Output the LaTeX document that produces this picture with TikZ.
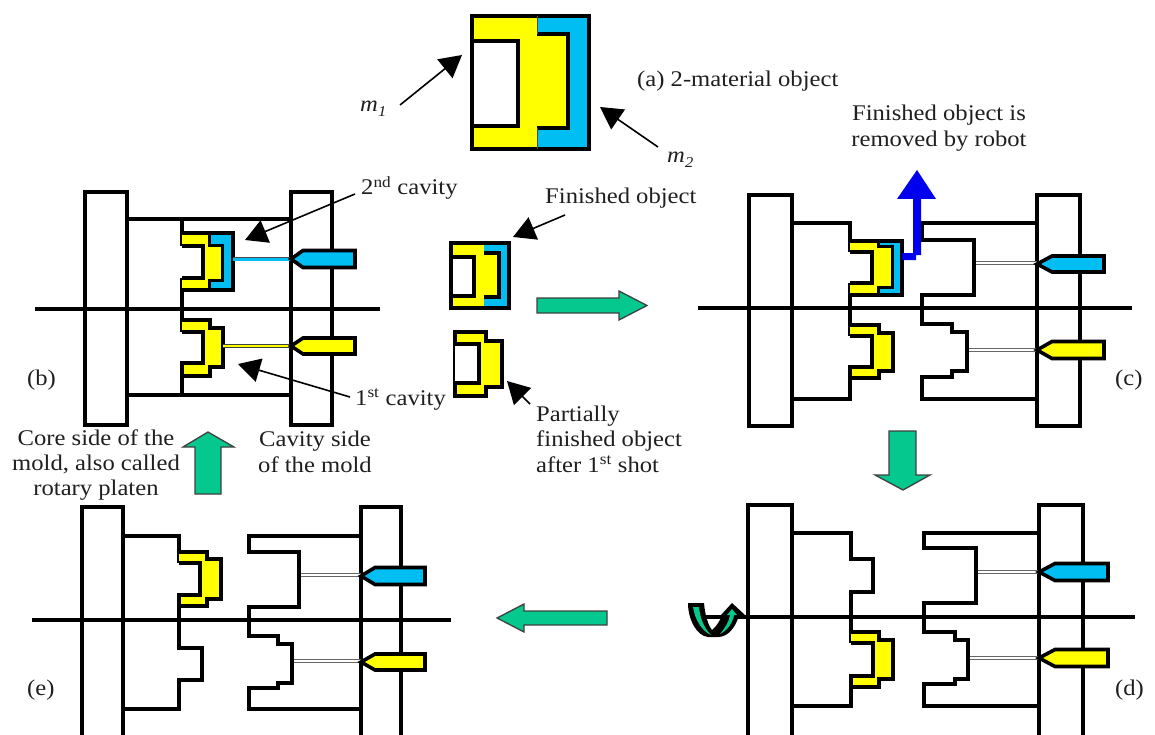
\documentclass[tikz,border=0pt]{standalone}
\usepackage{fontspec}
\setmainfont{Liberation Serif}[FakeStretch=1.1]
\usetikzlibrary{arrows.meta}
\definecolor{matyellow}{HTML}{FFFF00}
\definecolor{matblue}{HTML}{00BEF2}
\definecolor{robotblue}{HTML}{0000EE}
\definecolor{stepgreen}{HTML}{05C88E}
\tikzset{
  moldline/.style={draw=black,line width=3.6pt,line join=miter},
  platen/.style={draw=black,fill=white,line width=3.6pt},
  axisline/.style={draw=black,line width=3.2pt},
  ptr/.style={draw=black,line width=1.6pt,-{Triangle[length=22pt,width=24pt]}},
  steparrow/.style={draw=black!75,fill=stepgreen,line width=1.3pt,line join=miter},
  lbl/.style={inner sep=0pt,font=\fontsize{22.4}{25.4}\selectfont,text=black!88},
  lblb/.style={lbl,anchor=base west},
}
% tip x, tip y, shoulder x, end x, half height, colour
\newcommand\nozzleshape[6]{\draw[moldline,fill=#6] (#1,#2) -- (#3,#2-#5) -- (#4,#2-#5) -- (#4,#2+#5) -- (#3,#2+#5) -- cycle;}
% from x, to x, y
\newcommand\thinsprue[3]{\draw[black!60,line width=3.6pt] (#1,#3) -- (#2,#3); \draw[white,line width=1.6pt] (#1,#3) -- (#2,#3);}
\begin{document}
\begin{tikzpicture}[x=1pt,y=-1pt]
\useasboundingbox (0,0) rectangle (1155,735);
\clip (0,0) rectangle (1155,735);
\fill[white] (0,0) rectangle (1155,735);

%% ---------- (a)
\fill[matyellow] (472,16) rectangle (537,149);
\fill[matyellow] (537,34) rectangle (568,128);
\fill[matblue] (537,16) -- (589,16) -- (589,149) -- (537,149) -- (537,128) -- (568,128) -- (568,34) -- (537,34) -- cycle;
\draw[moldline,fill=white] (472,41) -- (518,41) -- (518,126) -- (472,126);
\draw[moldline] (537,34) -- (568,34) -- (568,128) -- (537,128);
\draw[moldline] (472,16) rectangle (589,149);
\draw[black!70,line width=.6pt] (537,16) -- (537,34) (537,128) -- (537,149);
\coordinate (m1s) at (400,105); \coordinate (m1t) at (462,55);
\coordinate (m2s) at (658,147); \coordinate (m2t) at (600,107);
\draw[ptr] (m1s) -- (m1t);
\draw[ptr] (m2s) -- (m2t);
\node[lblb] (lm1) at (360,112) {\textit{m}\raisebox{-5pt}{\fontsize{15}{15}\selectfont\textit{1}}};
\node[lblb] (lm2) at (667,163) {\textit{m}\raisebox{-5pt}{\fontsize{15}{15}\selectfont\textit{2}}};
\node[lblb] (la) at (637,87) {(a) 2-material object};
\node[lbl,align=center] (lrobot) at (939,128) {Finished object is\\removed by robot};

%% ---------- (b)
\draw[platen] (85,192) rectangle (127,425);
\draw[platen] (291,192) rectangle (332,425);
\draw[moldline] (127,219) -- (291,219);
\draw[moldline] (127,395) -- (291,395);
\draw[moldline] (182,219) -- (182,246);
\draw[moldline] (182,278) -- (182,332);
\draw[moldline] (182,363) -- (182,395);
\draw[axisline] (35,309) -- (380,309);
% upper shot
\fill[matyellow] (182,233) -- (209,233) -- (209,245) -- (222,245) -- (222,280) -- (209,280) -- (209,290) -- (182,290) -- (182,278) -- (203,278) -- (203,246) -- (182,246) -- cycle;
\fill[matblue] (209,233) -- (233,233) -- (233,290) -- (209,290) -- (209,280) -- (222,280) -- (222,245) -- (209,245) -- cycle;
\draw[moldline] (182,233) -- (233,233) -- (233,290) -- (182,290);
\draw[moldline] (182,246) -- (203,246) -- (203,278) -- (182,278);
\draw[moldline,line width=3pt] (209,233) -- (209,245) -- (222,245) -- (222,280) -- (209,280) -- (209,290);
% lower shot
\draw[moldline,fill=matyellow] (182,320) -- (210,320) -- (210,328) -- (223,328) -- (223,367) -- (210,367) -- (210,376) -- (182,376) -- (182,363) -- (203,363) -- (203,332) -- (182,332);
% sprues
\draw[black!70,line width=4pt] (233,259) -- (291,259);
\draw[matblue,line width=3pt] (233,259) -- (291,259);
\draw[black!75,line width=4.2pt] (223,346) -- (291,346);
\draw[matyellow,line width=2.2pt] (223,346) -- (291,346);
\nozzleshape{291}{259}{303}{355}{8.5}{matblue}
\nozzleshape{291}{346}{303}{355}{8}{matyellow}
\coordinate (c2s) at (355,194); \coordinate (c2t) at (245,240);
\coordinate (c1s) at (350,397); \coordinate (c1t) at (238,364);
\draw[ptr] (c2s) -- (c2t);
\draw[ptr] (c1s) -- (c1t);
\node[lblb] (l2nd) at (361,195) {2\textsuperscript{nd} cavity};
\node[lblb] (l1st) at (355,405) {1\textsuperscript{st} cavity};
\node[lblb] (lb) at (27,385) {(b)};

%% ---------- centre objects
\fill[matyellow] (451,243) rectangle (484,308);
\fill[matyellow] (484,253) rectangle (499,297);
\fill[matblue] (484,243) -- (509,243) -- (509,308) -- (484,308) -- (484,297) -- (499,297) -- (499,253) -- (484,253) -- cycle;
\draw[moldline,fill=white] (451,257) -- (474,257) -- (474,296) -- (451,296);
\draw[moldline] (484,253) -- (499,253) -- (499,297) -- (484,297);
\draw[moldline] (451,243) rectangle (509,308);
\draw[moldline,fill=matyellow] (455,332) -- (486,332) -- (486,341) -- (502,341) -- (502,387) -- (486,387) -- (486,396) -- (455,396) -- cycle;
\draw[moldline,fill=white] (455,344) -- (479,344) -- (479,383) -- (455,383);
\coordinate (fos) at (565,215); \coordinate (fot) at (513,237);
\coordinate (pos) at (530,404); \coordinate (pot) at (507,381);
\draw[ptr] (fos) -- (fot);
\draw[ptr] (pos) -- (pot);
\node[lblb] (lfin) at (545,204) {Finished object};
\node[lbl,align=left,anchor=west] (lpart) at (536,439) {Partially\\finished object\\after 1\textsuperscript{st} shot};

%% ---------- (c)
\draw[platen] (749,195) rectangle (792,426);
\draw[platen] (1037,195) rectangle (1080,426);
\draw[moldline] (792,223) -- (850,223) -- (850,252);
\draw[moldline] (850,283) -- (850,336);
\draw[moldline] (850,367) -- (850,399) -- (792,399);
\draw[axisline] (698,308) -- (1132,308);
\fill[matyellow] (850,241) -- (878,241) -- (878,246) -- (892,246) -- (892,287) -- (878,287) -- (878,295) -- (850,295) -- (850,283) -- (872,283) -- (872,252) -- (850,252) -- cycle;
\fill[matblue] (878,241) -- (902,241) -- (902,295) -- (878,295) -- (878,287) -- (892,287) -- (892,246) -- (878,246) -- cycle;
\draw[moldline] (850,241) -- (902,241) -- (902,295) -- (850,295);
\draw[moldline] (850,252) -- (872,252) -- (872,283) -- (850,283);
\draw[moldline,line width=3pt] (878,241) -- (878,246) -- (892,246) -- (892,287) -- (878,287) -- (878,295);
\draw[moldline,fill=matyellow] (850,325) -- (879,325) -- (879,333) -- (893,333) -- (893,371) -- (879,371) -- (879,378) -- (850,378) -- (850,367) -- (872,367) -- (872,336) -- (850,336);
\draw[moldline] (1037,223) -- (922,223) -- (922,240) -- (974,240) -- (974,295) -- (922,295) -- (922,324) -- (952,324) -- (952,332) -- (967,332) -- (967,371) -- (952,371) -- (952,377) -- (922,377) -- (922,399) -- (1037,399);
\thinsprue{976}{1037}{263}
\thinsprue{969}{1037}{350}
\nozzleshape{1037}{264}{1052}{1104}{8}{matblue}
\nozzleshape{1037}{350}{1052}{1104}{8.5}{matyellow}
\fill[robotblue] (913,199) -- (913,253) -- (902,253) -- (902,260) -- (916,260) -- (916,255) -- (921,255) -- (921,199) -- (936,199) -- (917,170) -- (897,199) -- cycle;
\node[lblb] (lc) at (1115,385) {(c)};

%% ---------- (d)
\draw[platen] (748,505) rectangle (792,742);
\draw[platen] (1039,505) rectangle (1083,742);
\draw[moldline] (792,533) -- (851,533) -- (851,559) -- (873,559) -- (873,592) -- (851,592) -- (851,643);
\draw[moldline] (851,676) -- (851,706) -- (792,706);
\draw[axisline] (702,617) -- (1135,617);
\draw[moldline,fill=matyellow] (851,632) -- (879,632) -- (879,640) -- (893,640) -- (893,679) -- (879,679) -- (879,687) -- (851,687) -- (851,676) -- (873,676) -- (873,643) -- (851,643);
\draw[moldline] (1039,533) -- (924,533) -- (924,548) -- (976,548) -- (976,603) -- (924,603) -- (924,632) -- (955,632) -- (955,640) -- (968,640) -- (968,679) -- (955,679) -- (955,684) -- (924,684) -- (924,706) -- (1039,706);
\thinsprue{978}{1039}{572}
\thinsprue{970}{1039}{658}
\nozzleshape{1039}{572}{1055}{1108}{8.5}{matblue}
\nozzleshape{1039}{658}{1055}{1108}{8.5}{matyellow}
\node[lblb] (ld) at (1115,695) {(d)};
% rotation symbol
\fill[black] (688,603) -- (704,603) .. controls (705,615) and (708,625) .. (712,630) .. controls (716,627) and (720,621) .. (722,615) -- (721,615) -- (732,603) -- (745,615) -- (739,615) .. controls (736,627) and (728,637) .. (718,637) -- (708,637) .. controls (697,636) and (688,620) .. (688,603) -- cycle;
\fill[stepgreen] (693,607) -- (699,607) .. controls (700,618) and (704,628) .. (711,635) .. controls (702,631) and (695,620) .. (693,607) -- cycle;
\fill[stepgreen] (720,634) .. controls (725,628) and (729,622) .. (730,615) -- (727,615) -- (732,609) -- (737,615) -- (734,615) .. controls (733,622) and (728,630) .. (720,634) -- cycle;

%% ---------- (e)
\draw[platen] (82,507) rectangle (123,742);
\draw[platen] (361,507) rectangle (401,742);
\draw[moldline] (123,536) -- (179,536) -- (179,563);
\draw[moldline] (179,595) -- (179,648) -- (202,648) -- (202,680) -- (179,680) -- (179,709) -- (123,709);
\draw[axisline] (32,620) -- (451,620);
\draw[moldline,fill=matyellow] (179,552) -- (207,552) -- (207,559) -- (221,559) -- (221,599) -- (207,599) -- (207,606) -- (179,606) -- (179,595) -- (200,595) -- (200,563) -- (179,563);
\draw[moldline] (361,536) -- (249,536) -- (249,552) -- (299,552) -- (299,607) -- (249,607) -- (249,636) -- (278,636) -- (278,644) -- (292,644) -- (292,683) -- (278,683) -- (278,688) -- (249,688) -- (249,709) -- (361,709);
\thinsprue{301}{361}{575}
\thinsprue{294}{361}{661}
\nozzleshape{361}{576}{375}{425}{8.5}{matblue}
\nozzleshape{361}{662}{375}{425}{8}{matyellow}
\node[lblb] (le) at (27,695) {(e)};

%% ---------- process arrows
\draw[steparrow] (537,298) -- (619,298) -- (619,291) -- (647,305.5) -- (619,320) -- (619,313) -- (537,313) -- cycle;
\draw[steparrow] (889,431) -- (916,431) -- (916,475) -- (930,475) -- (903,490) -- (875,475) -- (889,475) -- cycle;
\draw[steparrow] (607,611) -- (524,611) -- (524,604) -- (497,618) -- (524,632) -- (524,625) -- (607,625) -- cycle;
\draw[steparrow] (195,494) -- (221,494) -- (221,447) -- (234,447) -- (208,432) -- (183,447) -- (195,447) -- cycle;

%% ---------- side labels
\node[lbl,align=center] (lcore) at (96,465) {Core side of the\\mold, also called\\rotary platen};
\node[lbl,align=center] (lcav) at (315,452) {Cavity side\\of the mold};
\end{tikzpicture}
\end{document}
